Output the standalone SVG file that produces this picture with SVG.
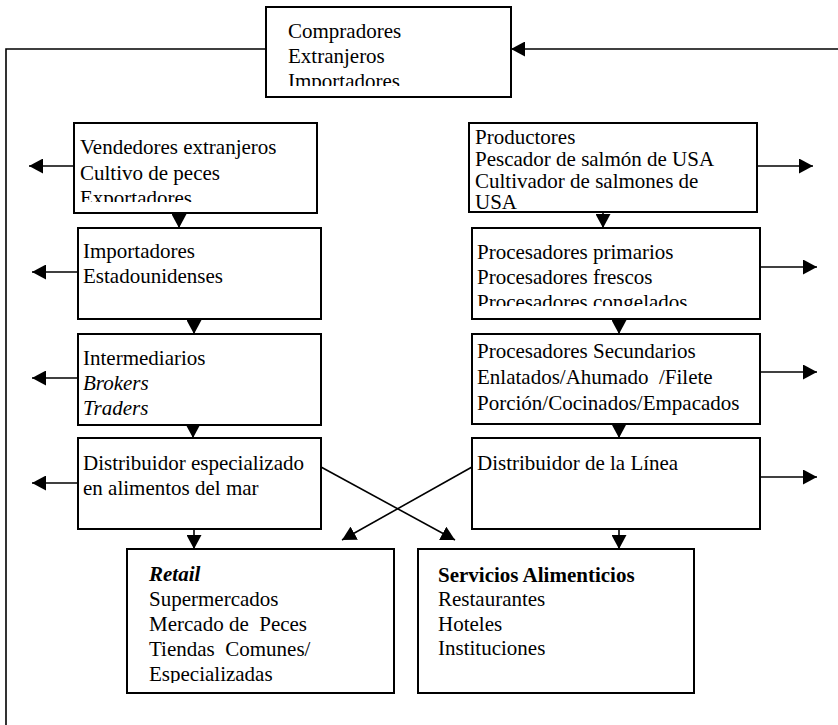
<svg xmlns="http://www.w3.org/2000/svg" width="838" height="725" viewBox="0 0 838 725">
<style>
.box{fill:#fff;stroke:#000;stroke-width:2}
.t{font-family:"Liberation Serif","Times New Roman",serif;font-size:21px;fill:#000;white-space:pre}
.b{font-weight:bold}
.i{font-style:italic}
.c{fill:none;stroke:#000;stroke-width:1.6}
</style>
<defs>
<marker id="ah" viewBox="0 0 14 15" refX="14" refY="7.5" markerWidth="14" markerHeight="15" markerUnits="userSpaceOnUse" orient="auto">
<path d="M0,0 L14,7.5 L0,15 z" fill="#000"/>
</marker>
<clipPath id="cTop"><rect x="266" y="7" width="245" height="79"/></clipPath>
<clipPath id="cL1"><rect x="74" y="123" width="243" height="79"/></clipPath>
<clipPath id="cR2"><rect x="472" y="228" width="288" height="78"/></clipPath>
<clipPath id="cRet"><rect x="127" y="549" width="267" height="134"/></clipPath>
</defs>

<g id="connectors">
<polyline class="c" points="266,49 6,49 6,725"/>
<line class="c" x1="838" y1="49" x2="511" y2="49" marker-end="url(#ah)"/>
<line class="c" x1="179" y1="213" x2="179" y2="228" marker-end="url(#ah)"/>
<line class="c" x1="194" y1="319" x2="194" y2="334" marker-end="url(#ah)"/>
<line class="c" x1="193" y1="425" x2="193" y2="438" marker-end="url(#ah)"/>
<line class="c" x1="194" y1="529" x2="194" y2="549" marker-end="url(#ah)"/>
<line class="c" x1="603" y1="212" x2="603" y2="228" marker-end="url(#ah)"/>
<line class="c" x1="619" y1="319" x2="619" y2="334" marker-end="url(#ah)"/>
<line class="c" x1="619" y1="424" x2="619" y2="438" marker-end="url(#ah)"/>
<line class="c" x1="619" y1="529" x2="619" y2="549" marker-end="url(#ah)"/>
<line class="c" x1="74" y1="166" x2="29" y2="166" marker-end="url(#ah)"/>
<line class="c" x1="78" y1="272" x2="32" y2="272" marker-end="url(#ah)"/>
<line class="c" x1="78" y1="378" x2="32" y2="378" marker-end="url(#ah)"/>
<line class="c" x1="78" y1="483" x2="32" y2="483" marker-end="url(#ah)"/>
<line class="c" x1="757" y1="166" x2="813" y2="166" marker-end="url(#ah)"/>
<line class="c" x1="760" y1="267" x2="817" y2="267" marker-end="url(#ah)"/>
<line class="c" x1="760" y1="372" x2="817" y2="372" marker-end="url(#ah)"/>
<line class="c" x1="760" y1="477" x2="817" y2="477" marker-end="url(#ah)"/>
<line class="c" x1="321" y1="467" x2="455" y2="540" marker-end="url(#ah)"/>
<line class="c" x1="472" y1="467" x2="342" y2="540" marker-end="url(#ah)"/>
</g>

<g id="compradores">
<rect class="box" x="266" y="7" width="245" height="90"/>
<g clip-path="url(#cTop)">
<text class="t" x="288" y="38">Compradores</text>
<text class="t" x="288" y="63">Extranjeros</text>
<text class="t" x="288" y="88">Importadores</text>
</g>
</g>

<g id="vendedores">
<rect class="box" x="74" y="123" width="243" height="90"/>
<g clip-path="url(#cL1)">
<text class="t" x="80" y="154">Vendedores extranjeros</text>
<text class="t" x="80" y="180">Cultivo de peces</text>
<text class="t" x="80" y="205">Exportadores</text>
</g>
</g>

<g id="importadores">
<rect class="box" x="78" y="228" width="243" height="91"/>
<text class="t" x="83" y="258">Importadores</text>
<text class="t" x="83" y="283">Estadounidenses</text>
</g>

<g id="intermediarios">
<rect class="box" x="78" y="334" width="243" height="91"/>
<text class="t" x="83" y="365">Intermediarios</text>
<text class="t i" x="83" y="390">Brokers</text>
<text class="t i" x="83" y="415">Traders</text>
</g>

<g id="distribuidor-esp">
<rect class="box" x="78" y="438" width="243" height="91"/>
<text class="t" x="83" y="470">Distribuidor especializado</text>
<text class="t" x="83" y="495">en alimentos del mar</text>
</g>

<g id="productores">
<rect class="box" x="469" y="123" width="288" height="89"/>
<text class="t" x="475" y="144">Productores</text>
<text class="t" x="475" y="166">Pescador de salmón de USA</text>
<text class="t" x="475" y="187.5">Cultivador de salmones de</text>
<text class="t" x="475" y="209">USA</text>
</g>

<g id="proc-primarios">
<rect class="box" x="472" y="228" width="288" height="91"/>
<g clip-path="url(#cR2)">
<text class="t" x="477" y="259">Procesadores primarios</text>
<text class="t" x="477" y="284">Procesadores frescos</text>
<text class="t" x="477" y="309">Procesadores congelados</text>
</g>
</g>

<g id="proc-secundarios">
<rect class="box" x="472" y="334" width="288" height="90"/>
<text class="t" x="477" y="358">Procesadores Secundarios</text>
<text class="t" x="477" y="384">Enlatados/Ahumado  /Filete</text>
<text class="t" x="477" y="410">Porción/Cocinados/Empacados</text>
</g>

<g id="distribuidor-linea">
<rect class="box" x="472" y="438" width="288" height="91"/>
<text class="t" x="477" y="470">Distribuidor de la Línea</text>
</g>

<g id="retail">
<rect class="box" x="127" y="549" width="267" height="144"/>
<g clip-path="url(#cRet)">
<text class="t b i" x="149" y="581">Retail</text>
<text class="t" x="149" y="606">Supermercados</text>
<text class="t" x="149" y="631">Mercado de  Peces</text>
<text class="t" x="149" y="656">Tiendas  Comunes/</text>
<text class="t" x="149" y="681">Especializadas</text>
</g>
</g>

<g id="servicios">
<rect class="box" x="418" y="549" width="276" height="144"/>
<text class="t b" x="438" y="582">Servicios Alimenticios</text>
<text class="t" x="438" y="606">Restaurantes</text>
<text class="t" x="438" y="631">Hoteles</text>
<text class="t" x="438" y="655">Instituciones</text>
</g>
</svg>
